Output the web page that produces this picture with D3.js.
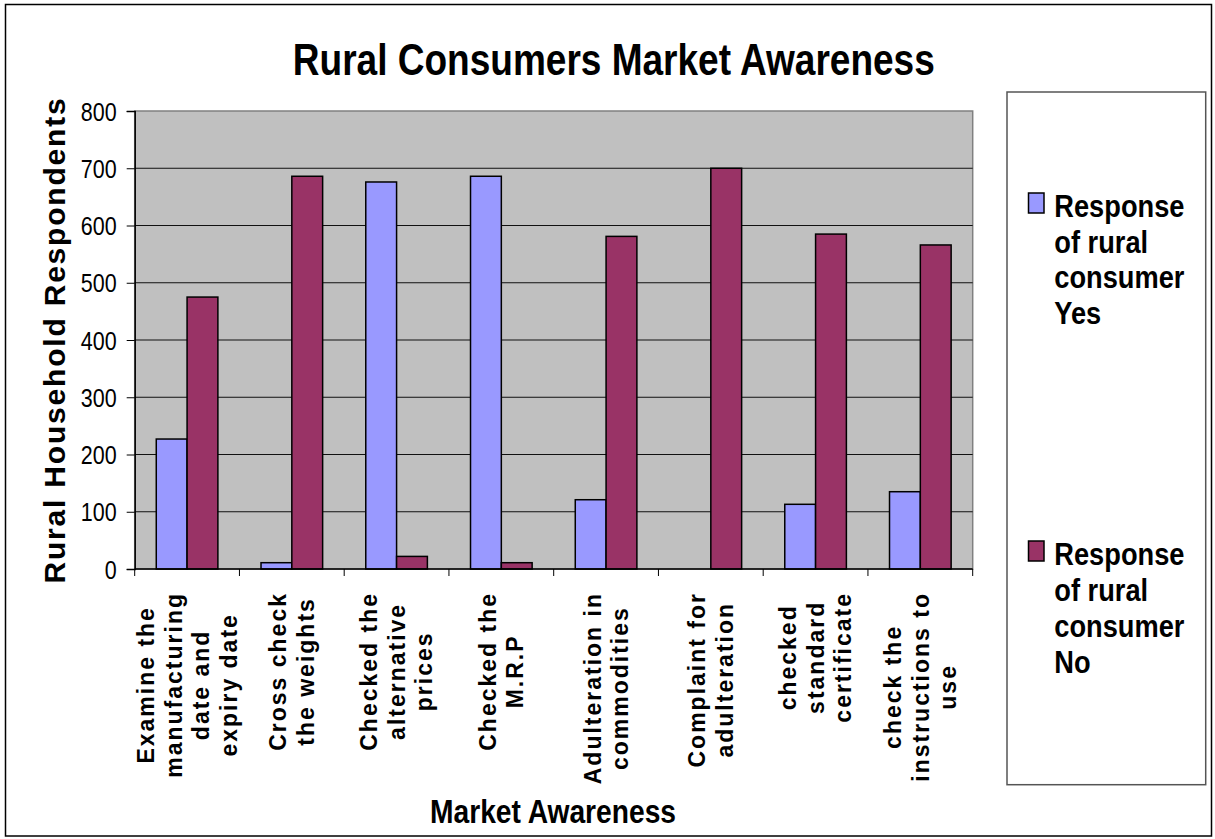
<!DOCTYPE html>
<html>
<head>
<meta charset="utf-8">
<script src="https://cdn.jsdelivr.net/npm/d3@7"></script>
<style>
  body { margin: 0; background: #fff; }
  text { font-family: "Liberation Sans", Arial, Helvetica, sans-serif; font-weight: bold; fill: #000; }
</style>
</head>
<body>
<svg id="chart" width="1215" height="839"></svg>
<script>
// Survey categories (line breaks mark how each axis label wraps)
const categories = [
  "Examine the\nmanufacturing\ndate and\nexpiry date",
  "Cross check\nthe weights",
  "Checked the\nalternative\nprices",
  "Checked the\nM.R.P",
  "Adulteration in\ncommodities",
  "Complaint for\nadulteration",
  "checked\nstandard\ncertificate",
  "check the\ninstructions to\nuse"
];
const yesValues = [227, 11, 676, 686, 121, 0, 113, 135];
const noValues  = [475, 686, 22, 11, 581, 700, 585, 566];
const seriesKeys = ["yes", "no"];
const seriesLabels = [
  ["Response", "of rural", "consumer", "Yes"],
  ["Response", "of rural", "consumer", "No"]
];
const yTicks = [0, 100, 200, 300, 400, 500, 600, 700, 800];

const colors = { yes: "#9999FF", no: "#993366" };

const svg = d3.select("#chart");
const plot = { left: 134.7, right: 972.7, top: 111, bottom: 569 };

// outer chart border
svg.append("rect")
  .attr("x", 5.5).attr("y", 4.5).attr("width", 1206).attr("height", 831.5)
  .attr("fill", "#fff").attr("stroke", "#000").attr("stroke-width", 1.5);

const x = d3.scaleBand().domain(categories).range([plot.left, plot.right]).padding(0);
const xs = d3.scaleBand().domain(seriesKeys).range([0, x.bandwidth()])
  .paddingInner(0).paddingOuter(0.7);
const y = d3.scaleLinear().domain([0, 800]).range([plot.bottom, plot.top]);

// plot background
svg.append("rect")
  .attr("x", plot.left).attr("y", plot.top)
  .attr("width", plot.right - plot.left).attr("height", plot.bottom - plot.top)
  .attr("fill", "#C0C0C0").attr("stroke", "#808080").attr("stroke-width", 1.5);

// horizontal gridlines
svg.append("g").selectAll("line")
  .data(yTicks.filter(t => t > 0 && t < 800))
  .join("line")
  .attr("x1", plot.left).attr("x2", plot.right)
  .attr("y1", d => y(d)).attr("y2", d => y(d))
  .attr("stroke", "#111").attr("stroke-width", 1);

// bars
const rows = categories.map((c, i) => ({ cat: c, yes: yesValues[i], no: noValues[i] }));
const groups = svg.append("g").selectAll("g")
  .data(rows).join("g")
  .attr("transform", d => `translate(${x(d.cat)},0)`);
groups.selectAll("rect")
  .data(d => seriesKeys.map(k => ({ key: k, value: d[k] })).filter(e => e.value > 0))
  .join("rect")
  .attr("x", d => xs(d.key))
  .attr("width", xs.bandwidth())
  .attr("y", d => y(d.value))
  .attr("height", d => y(0) - y(d.value))
  .attr("fill", d => colors[d.key])
  .attr("stroke", "#000").attr("stroke-width", 1.5);

// y axis
const yAxis = svg.append("g")
  .attr("transform", `translate(${plot.left},0)`)
  .call(d3.axisLeft(y).tickValues(yTicks).tickSize(8).tickPadding(0).tickFormat(d3.format("d")));
yAxis.select(".domain").attr("stroke", "#000").attr("stroke-width", 1.5);
yAxis.selectAll(".tick line").attr("stroke", "#000");
yAxis.selectAll(".tick text")
  .attr("font-size", 25)
  .attr("x", -21).attr("dy", "0.36em")
  .attr("transform", "scale(0.86,1)")
  .style("font-weight", "normal");

// x axis line with ticks at category boundaries
svg.append("line")
  .attr("x1", plot.left).attr("x2", plot.right)
  .attr("y1", y(0)).attr("y2", y(0))
  .attr("stroke", "#000").attr("stroke-width", 1.5);
const bounds = categories.map(c => x(c)).concat([x.range()[1]]);
svg.append("g").selectAll("line")
  .data(bounds).join("line")
  .attr("x1", d => d).attr("x2", d => d)
  .attr("y1", y(0)).attr("y2", y(0) + 7)
  .attr("stroke", "#000").attr("stroke-width", 1);

// category labels, rotated and letter-spaced, lines centred on each other
const lineGap = 27.5;
const labelTop = 592;
const labelFont = 23;
const labelSpacing = 2.0;
categories.forEach(c => {
  const lines = c.split("\n");
  const cx = x(c) + x.bandwidth() / 2;
  const g = svg.append("g");
  const texts = lines.map((ln, j) => {
    const lx = cx + (j - (lines.length - 1) / 2) * lineGap + labelFont * 0.36;
    return g.append("text")
      .attr("font-size", labelFont)
      .attr("letter-spacing", labelSpacing)
      .attr("text-anchor", "middle")
      .attr("data-x", lx)
      .text(ln);
  });
  const maxLen = d3.max(texts, t => t.node().getComputedTextLength());
  texts.forEach(t => {
    t.attr("transform", `translate(${t.attr("data-x")},${labelTop + maxLen / 2}) rotate(-90)`);
  });
});

// titles
svg.append("text")
  .attr("x", 613.8).attr("y", 75)
  .attr("text-anchor", "middle").attr("font-size", 44)
  .attr("textLength", 642).attr("lengthAdjust", "spacingAndGlyphs")
  .text("Rural Consumers Market Awareness");

svg.append("text")
  .attr("x", 553).attr("y", 823)
  .attr("text-anchor", "middle").attr("font-size", 33.5)
  .attr("textLength", 246).attr("lengthAdjust", "spacingAndGlyphs")
  .text("Market Awareness");

svg.append("text")
  .attr("transform", "translate(65,340) rotate(-90)")
  .attr("text-anchor", "middle").attr("font-size", 30)
  .attr("letter-spacing", 1.8)
  .text("Rural Household Respondents");

// legend
svg.append("rect")
  .attr("x", 1007).attr("y", 92).attr("width", 198.7).attr("height", 692.7)
  .attr("fill", "#fff").attr("stroke", "#555").attr("stroke-width", 1.5);

const legendItems = [
  { key: "yes", top: 217, gap: 35.5 },
  { key: "no", top: 565, gap: 36 }
];
legendItems.forEach((item, i) => {
  svg.append("rect")
    .attr("x", 1028.5).attr("y", item.top - 24).attr("width", 15.5).attr("height", 20)
    .attr("fill", colors[item.key]).attr("stroke", "#000").attr("stroke-width", 1.5);
  seriesLabels[i].forEach((ln, j) => {
    svg.append("g")
      .attr("transform", `translate(1054.3,${item.top + j * item.gap}) scale(0.865,1)`)
      .append("text")
      .attr("font-size", 31.5)
      .text(ln);
  });
});
</script>
</body>
</html>
